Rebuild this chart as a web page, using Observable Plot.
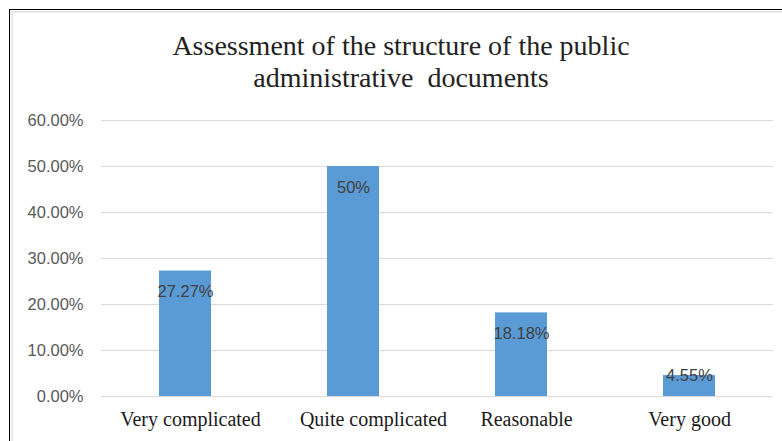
<!DOCTYPE html>
<html><head><meta charset="utf-8">
<script src="https://cdn.jsdelivr.net/npm/d3@7"></script>
<script src="https://cdn.jsdelivr.net/npm/@observablehq/plot@0.6"></script>
<style>
body{margin:0;background:#fff;}
#wrap{position:relative;width:782px;height:441px;overflow:hidden;background:#fff;}
#frame{position:absolute;left:9px;top:9px;right:-10px;bottom:-10px;border-left:1.5px solid #000;border-top:1.5px solid #000;}
#inner{position:absolute;left:11px;top:11px;right:-10px;bottom:-10px;border-left:2px solid #e8e8e8;border-top:2px solid #e8e8e8;}
#title{position:absolute;left:0;width:802px;top:30px;text-align:center;font-family:"Liberation Serif",serif;font-size:28px;line-height:32px;white-space:pre;color:#222;}
#chart{position:absolute;left:0;top:0;}
</style>
</head><body>
<div id="wrap">
  <div id="frame"></div>
  <div id="inner"></div>
  <div id="chart"></div>
  <div id="title">Assessment of the structure of the public
administrative  documents</div>
</div>
<script>
const categories = ["Very complicated", "Quite complicated", "Reasonable", "Very good"];
const values = [0.2727, 0.50, 0.1818, 0.0455];
const valueLabels = ["27.27%", "50%", "18.18%", "4.55%"];
const yTicks = [0, 0.1, 0.2, 0.3, 0.4, 0.5, 0.6];

const data = categories.map((c, i) => ({category: c, value: values[i], label: valueLabels[i]}));

// category labels in the reference sit slightly right of their bars
const xAxisStyle = {tickSize: 0, tickPadding: 15, fontSize: 20, fill: "#1a1a1a",
  fontFamily: "Liberation Serif, Times New Roman, serif"};

const chart = Plot.plot({
  width: 782,
  height: 441,
  marginLeft: 101,
  marginRight: 9,
  marginTop: 120,
  marginBottom: 45,
  style: {background: "transparent", fontFamily: "Liberation Sans, Arial, sans-serif"},
  x: {domain: categories, paddingInner: 0.69, paddingOuter: 0.345, label: null},
  y: {domain: [0, 0.6], label: null},
  marks: [
    Plot.gridY(yTicks, {stroke: "#d9d9d9", strokeOpacity: 1, strokeWidth: 1}),
    Plot.barY(data, {x: "category", y: "value", fill: "#5b9bd5"}),
    Plot.axisY(yTicks, {tickSize: 0, tickPadding: 18, fontSize: 16.5, fill: "#595959",
      tickFormat: d => (d * 100).toFixed(2) + "%"}),
    Plot.axisX([categories[0], categories[2]], {...xAxisStyle, dx: 5}),
    Plot.axisX([categories[1]], {...xAxisStyle, dx: 20}),
    Plot.axisX([categories[3]], {...xAxisStyle, dx: 0}),
    Plot.text(data.filter(d => d.value >= 0.1), {x: "category", y: "value", text: "label",
      dy: 21, fontSize: 16.5, fill: "#404040"}),
    Plot.text(data.filter(d => d.value < 0.1), {x: "category", y: "value", text: "label",
      dy: 0.5, fontSize: 16.5, fill: "#404040"})
  ]
});
document.getElementById("chart").appendChild(chart);
</script>
</body></html>
